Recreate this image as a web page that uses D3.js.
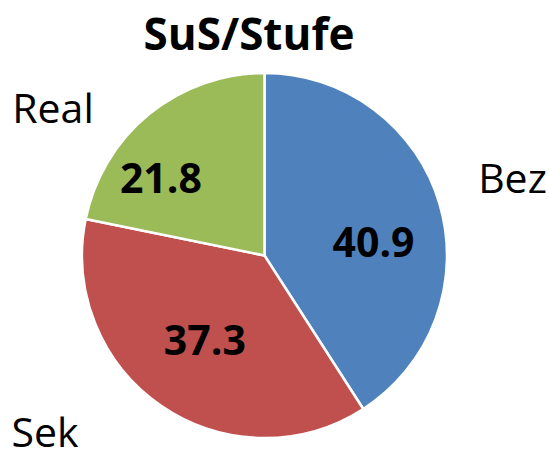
<!DOCTYPE html>
<html lang="de">
  <head>
    <meta charset="utf-8" />
    <title>SuS/Stufe</title>
    <script src="https://d3js.org/d3.v7.min.js"></script>
    <style>
      body { margin: 0; background: #fff; }
      text { font-family: "Open Sans", "Liberation Sans", sans-serif; }
    </style>
  </head>
  <body>
    <div id="chart"></div>
    <script>
      // Stufen und Anteile (Prozent), im Uhrzeigersinn ab 12 Uhr
      const categories = ["Bez", "Sek", "Real"];
      const values = [40.9, 37.3, 21.8];
      const colors = ["#4F81BD", "#C0504D", "#9BBB59"];

      const width = 549;
      const height = 452;
      const cx = 264.5;
      const cy = 255.5;
      const radius = 182.5;

      const data = categories.map((c, i) => ({ label: c, value: values[i] }));

      const svg = d3
        .select("#chart")
        .append("svg")
        .attr("width", width)
        .attr("height", height);

      svg
        .append("text")
        .attr("x", 249)
        .attr("y", 50)
        .attr("text-anchor", "middle")
        .style("font-size", "44px")
        .style("font-weight", "bold")
        .text("SuS/Stufe");

      const g = svg
        .append("g")
        .attr("transform", "translate(" + cx + "," + cy + ")");

      const pie = d3
        .pie()
        .value((d) => d.value)
        .sort(null);

      const arc = d3.arc().innerRadius(0).outerRadius(radius);
      const labelArc = d3.arc().innerRadius(110).outerRadius(110);

      const color = d3.scaleOrdinal().domain(categories).range(colors);

      const arcs = pie(data);

      g.selectAll("path")
        .data(arcs)
        .enter()
        .append("path")
        .attr("d", arc)
        .attr("fill", (d) => color(d.data.label))
        .attr("stroke", "#fff")
        .attr("stroke-width", 2.5);

      // kleine Verschiebungen wie bei Excel-Datenbeschriftungen
      const nudge = { Bez: [3.5, 18], Sek: [2.5, -6], Real: [-34, 8] };
      g.selectAll(".value")
        .data(arcs)
        .enter()
        .append("text")
        .attr("class", "value")
        .attr("transform", (d) => {
          const c = labelArc.centroid(d);
          const n = nudge[d.data.label];
          return "translate(" + (c[0] + n[0]) + "," + (c[1] + n[1]) + ")";
        })
        .attr("text-anchor", "middle")
        .attr("dy", "0.36em")
        .style("font-size", "41px")
        .style("font-weight", "bold")
        .text((d) => d.data.value.toFixed(1));

      // Kategorienamen ausserhalb des Kreises
      const labelPos = { Bez: [512.5, 193], Sek: [45, 447], Real: [53, 123] };
      svg
        .selectAll(".cat")
        .data(data)
        .enter()
        .append("text")
        .attr("class", "cat")
        .attr("x", (d) => labelPos[d.label][0])
        .attr("y", (d) => labelPos[d.label][1])
        .attr("text-anchor", "middle")
        .style("font-size", "41px")
        .text((d) => d.label);
    </script>
  </body>
</html>
